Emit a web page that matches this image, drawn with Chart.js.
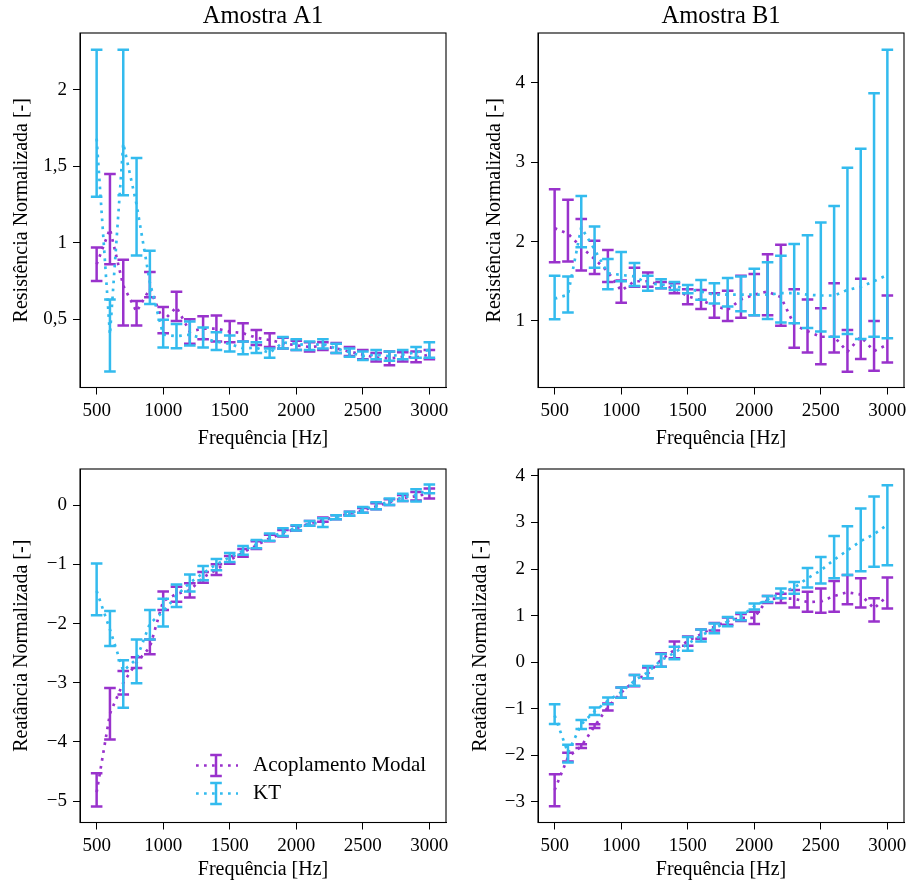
<!DOCTYPE html>
<html><head><meta charset="utf-8">
<script src="https://cdn.jsdelivr.net/npm/chart.js@4.4.0/dist/chart.umd.min.js"></script>
<style>
html,body{margin:0;padding:0;background:#fff;width:909px;height:883px;overflow:hidden;}
canvas{position:absolute;}
</style></head><body>
<canvas id="cTL" width="455" height="451" style="left:0;top:0"></canvas>
<canvas id="cTR" width="449" height="451" style="left:460px;top:0"></canvas>
<canvas id="cBL" width="455" height="442" style="left:0;top:440px"></canvas>
<canvas id="cBR" width="449" height="442" style="left:460px;top:440px"></canvas>
<script>
// ---------- data ----------
const freqs = [500,600,700,800,900,1000,1100,1200,1300,1400,1500,1600,1700,1800,1900,2000,2100,2200,2300,2400,2500,2600,2700,2800,2900,3000];
const xTicks = [500,1000,1500,2000,2500,3000];
const yTicksResA = [0.5,1,1.5,2];
const yTicksResB = [1,2,3,4];
const yTicksReaA = [-5,-4,-3,-2,-1,0];
const yTicksReaB = [-3,-2,-1,0,1,2,3,4];

// Amostra A1 - resistance
const resA_modal   = [0.86,1.09,0.72,0.55,0.70,0.49,0.58,0.42,0.44,0.44,0.42,0.41,0.38,0.365,0.345,0.33,0.32,0.325,0.31,0.29,0.27,0.25,0.245,0.255,0.25,0.27];
const resA_modalLo = [0.75,0.86,0.46,0.46,0.645,0.41,0.49,0.34,0.37,0.355,0.35,0.355,0.333,0.32,0.31,0.30,0.29,0.30,0.28,0.26,0.24,0.225,0.20,0.225,0.22,0.24];
const resA_modalHi = [0.97,1.45,0.89,0.62,0.81,0.58,0.68,0.50,0.52,0.525,0.49,0.475,0.43,0.41,0.38,0.36,0.35,0.35,0.345,0.32,0.30,0.28,0.29,0.285,0.29,0.30];
const resA_kt      = [1.68,0.40,1.65,1.25,0.74,0.40,0.39,0.40,0.375,0.355,0.34,0.31,0.315,0.28,0.35,0.34,0.33,0.34,0.31,0.285,0.26,0.27,0.26,0.27,0.285,0.30];
const resA_ktLo    = [1.30,0.16,1.31,0.917,0.60,0.316,0.312,0.33,0.316,0.30,0.29,0.272,0.28,0.25,0.31,0.30,0.30,0.31,0.28,0.255,0.235,0.24,0.23,0.24,0.25,0.25];
const resA_ktHi    = [2.26,0.63,2.26,1.553,0.948,0.497,0.47,0.486,0.447,0.416,0.394,0.355,0.35,0.31,0.385,0.37,0.355,0.37,0.34,0.31,0.29,0.30,0.29,0.30,0.32,0.35];

// Amostra B1 - resistance
const resB_modal   = [2.17,2.10,1.93,1.78,1.62,1.38,1.50,1.50,1.45,1.41,1.31,1.26,1.19,1.14,1.27,1.33,1.37,1.30,0.95,0.87,0.80,0.80,0.61,0.80,0.62,0.70];
const resB_modalLo = [1.74,1.75,1.634,1.59,1.49,1.23,1.43,1.43,1.41,1.35,1.21,1.15,1.04,1.0,1.04,1.07,1.07,0.94,0.66,0.60,0.454,0.60,0.36,0.52,0.37,0.475];
const resB_modalHi = [2.66,2.526,2.286,2.01,1.895,1.51,1.67,1.61,1.49,1.475,1.40,1.39,1.35,1.38,1.57,1.59,1.84,1.96,1.40,1.27,1.16,1.475,0.886,1.53,1.0,1.32];
const resB_kt      = [1.28,1.33,2.18,1.90,1.60,1.58,1.56,1.47,1.46,1.44,1.40,1.37,1.33,1.33,1.33,1.33,1.33,1.35,1.35,1.33,1.32,1.32,1.39,1.43,1.50,1.58];
const resB_ktLo    = [1.02,1.105,1.93,1.67,1.40,1.50,1.44,1.38,1.41,1.39,1.35,1.265,1.22,1.18,1.12,1.07,1.025,0.98,0.97,0.91,0.865,0.80,0.836,0.77,0.80,0.78];
const resB_ktHi    = [1.57,1.56,2.576,2.19,1.78,1.87,1.73,1.57,1.525,1.49,1.454,1.517,1.475,1.54,1.56,1.656,1.74,1.82,1.97,2.08,2.24,2.45,2.93,3.17,3.87,4.42];

// Amostra A1 - reactance
const reaA_modal   = [-4.85,-3.52,-3.00,-2.66,-2.40,-1.62,-1.50,-1.44,-1.22,-1.09,-0.93,-0.80,-0.68,-0.56,-0.48,-0.39,-0.31,-0.25,-0.20,-0.14,-0.09,-0.02,0.05,0.12,0.15,0.20];
const reaA_modalLo = [-5.09,-3.96,-3.20,-2.75,-2.52,-1.77,-1.63,-1.56,-1.31,-1.18,-0.99,-0.87,-0.74,-0.61,-0.53,-0.43,-0.35,-0.28,-0.24,-0.18,-0.13,-0.07,0.0,0.07,0.08,0.11];
const reaA_modalHi = [-4.53,-3.09,-2.80,-2.57,-2.27,-1.46,-1.38,-1.32,-1.13,-1.0,-0.86,-0.74,-0.61,-0.50,-0.42,-0.35,-0.27,-0.21,-0.17,-0.11,-0.05,0.03,0.10,0.17,0.22,0.28];
const reaA_kt      = [-1.45,-2.10,-2.80,-2.60,-2.00,-1.80,-1.53,-1.31,-1.15,-1.00,-0.88,-0.77,-0.66,-0.54,-0.46,-0.38,-0.31,-0.30,-0.20,-0.14,-0.08,-0.01,0.06,0.13,0.17,0.27];
const reaA_ktLo    = [-1.86,-2.38,-3.42,-3.01,-2.27,-2.05,-1.72,-1.46,-1.27,-1.10,-0.96,-0.84,-0.73,-0.60,-0.52,-0.43,-0.35,-0.37,-0.24,-0.18,-0.13,-0.07,0.0,0.07,0.06,0.20];
const reaA_ktHi    = [-0.985,-1.79,-2.62,-2.27,-1.77,-1.58,-1.34,-1.17,-1.03,-0.91,-0.81,-0.69,-0.59,-0.48,-0.39,-0.34,-0.27,-0.22,-0.17,-0.11,-0.03,0.05,0.11,0.19,0.27,0.35];

// Amostra B1 - reactance
const reaB_modal   = [-2.75,-2.05,-1.81,-1.38,-0.97,-0.66,-0.40,-0.25,0.05,0.26,0.45,0.60,0.76,0.88,0.95,0.95,1.35,1.37,1.36,1.29,1.30,1.42,1.50,1.45,1.15,1.42];
const reaB_modalLo = [-3.10,-2.14,-1.85,-1.42,-1.04,-0.77,-0.52,-0.35,-0.10,0.08,0.35,0.50,0.68,0.80,0.88,0.82,1.27,1.27,1.17,1.08,1.06,1.08,1.24,1.17,0.87,1.15];
const reaB_modalHi = [-2.41,-1.95,-1.77,-1.34,-0.89,-0.55,-0.28,-0.12,0.19,0.44,0.55,0.70,0.84,0.96,1.03,1.08,1.42,1.47,1.55,1.51,1.58,1.74,1.87,1.80,1.37,1.82];
const reaB_kt      = [-1.15,-1.95,-1.34,-1.06,-0.83,-0.65,-0.40,-0.22,0.04,0.20,0.39,0.57,0.72,0.87,0.98,1.20,1.35,1.48,1.60,1.80,1.97,2.20,2.40,2.60,2.75,2.95];
const reaB_ktLo    = [-1.33,-2.16,-1.44,-1.14,-0.91,-0.77,-0.51,-0.35,-0.10,0.06,0.24,0.44,0.62,0.77,0.90,1.13,1.29,1.37,1.47,1.60,1.69,1.80,1.87,1.95,2.05,2.08];
const reaB_ktHi    = [-0.91,-1.78,-1.245,-0.98,-0.76,-0.55,-0.28,-0.086,0.17,0.33,0.54,0.70,0.83,0.97,1.06,1.26,1.42,1.58,1.72,2.02,2.26,2.71,2.92,3.30,3.56,3.80];

// ---------- styling ----------
const PURPLE = '#9932CC';
const BLUE = '#33BBEE';
const FONT = "'Liberation Serif', 'Times New Roman', serif";
Chart.defaults.color = '#000';
Chart.defaults.font.family = FONT;

const fmt = v => {
  const r = Math.round(v*10)/10;
  return String(Math.abs(r)).replace('.', ',') ;
};
const fmtSigned = v => (v < 0 ? '\u2212' : '') + fmt(v);

const framePlugin = {
  id: 'frame',
  afterDatasetsDraw(chart) {
    const a = chart.chartArea, ctx = chart.ctx;
    ctx.save();
    ctx.strokeStyle = '#000';
    ctx.lineWidth = 1.1;
    ctx.setLineDash([]);
    ctx.strokeRect(a.left, a.top, a.right - a.left, a.bottom - a.top);
    ctx.restore();
  }
};

const errorBarPlugin = {
  id: 'errbars',
  afterDatasetDraw(chart, args) {
    const ds = chart.data.datasets[args.index];
    const xs = chart.scales.x, ys = chart.scales.y, ctx = chart.ctx;
    ctx.save();
    ctx.strokeStyle = ds.borderColor;
    ctx.lineWidth = 2.5;
    ctx.setLineDash([]);
    ctx.lineCap = 'butt';
    ds.data.forEach((p, i) => {
      const x = xs.getPixelForValue(p.x);
      const y1 = ys.getPixelForValue(ds.errLo[i]);
      const y2 = ys.getPixelForValue(ds.errHi[i]);
      ctx.beginPath();
      ctx.moveTo(x, y1); ctx.lineTo(x, y2);
      ctx.moveTo(x - 5.8, y1); ctx.lineTo(x + 5.8, y1);
      ctx.moveTo(x - 5.8, y2); ctx.lineTo(x + 5.8, y2);
      ctx.stroke();
    });
    ctx.restore();
  }
};

const legendPlugin = {
  id: 'errlegend',
  afterDraw(chart) {
    const ctx = chart.ctx;
    const items = [
      {label: 'Acoplamento Modal', color: PURPLE, y: 325.5},
      {label: 'KT', color: BLUE, y: 353.5}
    ];
    ctx.save();
    items.forEach(it => {
      ctx.strokeStyle = it.color;
      ctx.lineWidth = 2.7;
      ctx.setLineDash([2.7, 5.3]);
      ctx.beginPath(); ctx.moveTo(196, it.y); ctx.lineTo(238, it.y); ctx.stroke();
      ctx.setLineDash([]);
      ctx.lineWidth = 2.5;
      ctx.beginPath();
      ctx.moveTo(216, it.y - 10.5); ctx.lineTo(216, it.y + 10.5);
      ctx.moveTo(210.2, it.y - 10.5); ctx.lineTo(221.8, it.y - 10.5);
      ctx.moveTo(210.2, it.y + 10.5); ctx.lineTo(221.8, it.y + 10.5);
      ctx.stroke();
      ctx.fillStyle = '#000';
      ctx.font = '21px ' + FONT;
      ctx.textBaseline = 'middle';
      ctx.textAlign = 'left';
      ctx.fillText(it.label, 253, it.y);
    });
    ctx.restore();
  }
};

function series(label, color, vals, lo, hi, order) {
  return {
    label: label,
    data: freqs.map((f, i) => ({x: f, y: vals[i]})),
    errLo: lo, errHi: hi,
    borderColor: color,
    backgroundColor: color,
    borderWidth: 2.7,
    borderDash: [2.7, 5.3],
    borderCapStyle: 'butt',
    pointRadius: 0,
    fill: false,
    tension: 0,
    order: order
  };
}

function makePanel(id, cfg) {
  const plugins = [framePlugin, errorBarPlugin];
  if (cfg.legend) plugins.push(legendPlugin);
  new Chart(document.getElementById(id), {
    type: 'line',
    data: {datasets: [
      series('Acoplamento Modal', PURPLE, cfg.modal[0], cfg.modal[1], cfg.modal[2], 2),
      series('KT', BLUE, cfg.kt[0], cfg.kt[1], cfg.kt[2], 1)
    ]},
    options: {
      responsive: false,
      animation: false,
      events: [],
      layout: {padding: {left: cfg.padLeft, right: cfg.padRight, top: cfg.padTop, bottom: 0}},
      plugins: {
        legend: {display: false},
        tooltip: {enabled: false},
        title: cfg.title ? {
          display: true, text: cfg.title, fullSize: false,
          font: {size: 24.5, weight: 'normal', family: FONT}, color: '#000',
          padding: {top: 1.5, bottom: 2.1}
        } : {display: false}
      },
      scales: {
        x: {
          type: 'linear', min: 375, max: 3125,
          afterBuildTicks: s => { s.ticks = xTicks.map(v => ({value: v})); },
          ticks: {autoSkip: false, maxRotation: 0, padding: 5, font: {size: 19}, color: '#000',
                  callback: v => String(v)},
          grid: {drawOnChartArea: false, drawTicks: true, tickLength: 7, color: '#000', lineWidth: 1},
          border: {display: true, color: '#000'},
          title: {display: true, text: 'Frequência [Hz]', font: {size: 20}, color: '#000', padding: 0},
          afterFit: s => { s.height = cfg.xHeight; s.paddingLeft = 0; s.paddingRight = 0; }
        },
        y: {
          type: 'linear', min: cfg.yMin, max: cfg.yMax,
          afterBuildTicks: s => { s.ticks = cfg.yTicks.map(v => ({value: v})); },
          ticks: {autoSkip: false, padding: 6, font: {size: 19}, color: '#000', callback: v => fmtSigned(v)},
          grid: {drawOnChartArea: false, drawTicks: true, tickLength: 7, color: '#000', lineWidth: 1},
          border: {display: true, color: '#000'},
          title: {display: true, text: cfg.yLabel, font: {size: 20}, color: '#000', padding: 0},
          afterFit: s => { s.width = cfg.yWidth; s.paddingTop = 0; s.paddingBottom = 0; }
        }
      }
    },
    plugins: plugins
  });
}

makePanel('cTL', {
  title: 'Amostra A1', yLabel: 'Resistência Normalizada [-]',
  yMin: 0.055, yMax: 2.37, yTicks: yTicksResA,
  padLeft: 10, yWidth: 70, padRight: 9, padTop: 0, xHeight: 63.5,
  modal: [resA_modal, resA_modalLo, resA_modalHi], kt: [resA_kt, resA_ktLo, resA_ktHi]
});
makePanel('cTR', {
  title: 'Amostra B1', yLabel: 'Resistência Normalizada [-]',
  yMin: 0.16, yMax: 4.63, yTicks: yTicksResB,
  padLeft: 23, yWidth: 55, padRight: 5, padTop: 0, xHeight: 63.5,
  modal: [resB_modal, resB_modalLo, resB_modalHi], kt: [resB_kt, resB_ktLo, resB_ktHi]
});
makePanel('cBL', {
  title: null, yLabel: 'Reatância Normalizada [-]',
  yMin: -5.36, yMax: 0.61, yTicks: yTicksReaA,
  padLeft: 10, yWidth: 70, padRight: 9, padTop: 29, xHeight: 59.5, legend: true,
  modal: [reaA_modal, reaA_modalLo, reaA_modalHi], kt: [reaA_kt, reaA_ktLo, reaA_ktHi]
});
makePanel('cBR', {
  title: null, yLabel: 'Reatância Normalizada [-]',
  yMin: -3.45, yMax: 4.15, yTicks: yTicksReaB,
  padLeft: 9, yWidth: 69, padRight: 5, padTop: 29, xHeight: 59.5,
  modal: [reaB_modal, reaB_modalLo, reaB_modalHi], kt: [reaB_kt, reaB_ktLo, reaB_ktHi]
});
</script>
</body></html>
